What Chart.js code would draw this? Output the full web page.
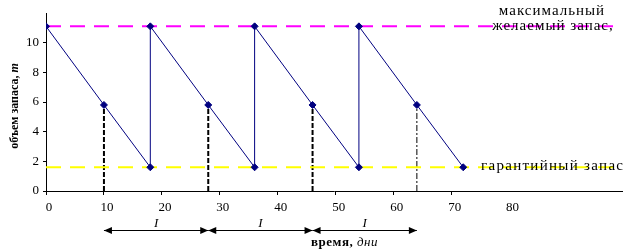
<!DOCTYPE html>
<html>
<head>
<meta charset="utf-8">
<script src="https://cdn.jsdelivr.net/npm/chart.js@4"></script>
<style>
  html, body { margin: 0; padding: 0; background: #fff; }
</style>
</head>
<body>
<canvas id="chart" width="633" height="252"></canvas>
<script>
// stock level over time (sawtooth)
const stockDays = [0, 10, 18, 18, 28, 36, 36, 46, 54, 54, 64, 72];
const stockLevels = [11.1, 5.8, 1.6, 11.1, 5.8, 1.6, 11.1, 5.8, 1.6, 11.1, 5.8, 1.6];
// order points
const orderDays = [10, 28, 46, 64];
const orderLevel = 5.8;
// reference levels
const maxStock = 11.1;
const safetyStock = 1.6;
const levelLineEnd = 98.6;
// axes
const xTicks = [0, 10, 20, 30, 40, 50, 60, 70, 80];
const yTicks = [0, 2, 4, 6, 8, 10];
const xMax = 99.4;
const yMax = 12;

const SERIF = "'Liberation Serif', 'Times New Roman', serif";

// -------------------------
// datasets
// -------------------------
const datasets = [
  {
    label: "stock",
    data: stockDays.map((d, i) => ({ x: d, y: stockLevels[i] })),
    borderColor: "#000080",
    backgroundColor: "#000080",
    borderWidth: 1,
    pointStyle: "rectRot",
    pointRadius: 3.5,
    pointBorderWidth: 1,
  },
  {
    label: "max",
    data: [{ x: 0, y: maxStock }, { x: levelLineEnd, y: maxStock }],
    borderColor: "#ff00ff",
    borderWidth: 2,
    borderDash: [15, 9],
    pointRadius: 0,
  },
  {
    label: "safety",
    data: [{ x: 0, y: safetyStock }, { x: levelLineEnd, y: safetyStock }],
    borderColor: "#ffff00",
    borderWidth: 2,
    borderDash: [15, 9],
    pointRadius: 0,
  },
];

orderDays.forEach((d, i) => {
  const last = i === orderDays.length - 1;
  datasets.push({
    label: "order" + i,
    data: [{ x: d, y: 0 }, { x: d, y: orderLevel }],
    borderColor: "#000",
    borderWidth: last ? 1 : 2,
    borderDash: last ? [6, 2, 2, 2] : [5, 2],
    pointRadius: 0,
  });
});

// -------------------------
// extra drawing: labels, arrows, titles
// -------------------------
function arrowHead(ctx, x, y, dir) {
  ctx.beginPath();
  ctx.moveTo(x, y);
  ctx.lineTo(x - dir * 8, y - 3.5);
  ctx.lineTo(x - dir * 8, y + 3.5);
  ctx.closePath();
  ctx.fill();
}

const extras = {
  id: "extras",
  afterDatasetsDraw(chart) {
    const ctx = chart.ctx;
    const xs = chart.scales.x;
    const ys = chart.scales.y;
    ctx.save();
    ctx.letterSpacing = "1px";
    ctx.font = "15px " + SERIF;
    ctx.fillStyle = "#000";
    ctx.textBaseline = "middle";

    // max level label (two lines, centred)
    const yMaxPx = ys.getPixelForValue(maxStock);
    ctx.textAlign = "center";
    ctx.fillText("максимальный", 552, yMaxPx - 15.5);
    ctx.fillText("желаемый запас,", 553, yMaxPx - 0.5);

    // safety level label
    const ySafePx = ys.getPixelForValue(safetyStock);
    ctx.textAlign = "left";
    ctx.letterSpacing = "1.3px";
    ctx.fillText("гарантийный запас", 481, ySafePx - 1);
    ctx.restore();

    // interval arrows
    ctx.save();
    const ay = 230.5;
    ctx.strokeStyle = "#000";
    ctx.fillStyle = "#000";
    ctx.lineWidth = 1;
    ctx.font = "italic 13px " + SERIF;
    ctx.textAlign = "center";
    ctx.textBaseline = "alphabetic";
    for (let i = 0; i < orderDays.length - 1; i++) {
      const x1 = xs.getPixelForValue(orderDays[i]);
      const x2 = xs.getPixelForValue(orderDays[i + 1]);
      ctx.beginPath();
      ctx.moveTo(x1, ay);
      ctx.lineTo(x2, ay);
      ctx.stroke();
      arrowHead(ctx, x1, ay, -1);
      arrowHead(ctx, x2, ay, 1);
      ctx.fillText("I", (x1 + x2) / 2, 227);
    }
    ctx.restore();

    // x axis title
    ctx.save();
    ctx.fillStyle = "#000";
    ctx.textBaseline = "alphabetic";
    ctx.letterSpacing = "0.5px";
    ctx.font = "bold 13px " + SERIF;
    const t1 = "время, ";
    ctx.fillText(t1, 311, 246);
    const tw = ctx.measureText(t1).width;
    ctx.font = "italic 13px " + SERIF;
    ctx.fillText("дни", 311 + tw, 246);
    ctx.restore();

    // y axis title
    ctx.save();
    ctx.translate(18, 106);
    ctx.rotate(-Math.PI / 2);
    ctx.fillStyle = "#000";
    ctx.textBaseline = "alphabetic";
    ctx.font = "bold 12px " + SERIF;
    const y1 = "объем запаса, ";
    const yw1 = ctx.measureText(y1).width;
    ctx.font = "italic bold 12px " + SERIF;
    const yw2 = ctx.measureText("т").width;
    const start = -(yw1 + yw2) / 2;
    ctx.font = "bold 12px " + SERIF;
    ctx.fillText(y1, start, 0);
    ctx.font = "italic bold 12px " + SERIF;
    ctx.fillText("т", start + yw1, 0);
    ctx.restore();
  },
};

// -------------------------
// chart
// -------------------------
new Chart(document.getElementById("chart"), {
  type: "line",
  data: { datasets: datasets },
  plugins: [extras],
  options: {
    responsive: false,
    animation: false,
    events: [],
    layout: { padding: { top: 13, right: 11, left: 0, bottom: 0 } },
    plugins: {
      legend: { display: false },
      tooltip: { enabled: false },
    },
    scales: {
      x: {
        type: "linear",
        min: 0,
        max: xMax,
        afterBuildTicks: (s) => { s.ticks = xTicks.map((v) => ({ value: v })); },
        afterFit: (s) => { s.height = 61; },
        border: { color: "#000", width: 1 },
        grid: {
          drawOnChartArea: false,
          tickLength: 4,
          color: (c) => (c.tick && c.tick.value === 80 ? "rgba(0,0,0,0)" : "#000"),
        },
        ticks: {
          color: "#000",
          font: { family: SERIF, size: 13 },
          padding: 5,
          labelOffset: 3,
          maxRotation: 0,
          autoSkip: false,
        },
      },
      y: {
        type: "linear",
        min: 0,
        max: yMax,
        afterBuildTicks: (s) => { s.ticks = yTicks.map((v) => ({ value: v })); },
        afterFit: (s) => { s.width = 46; },
        border: { color: "#000", width: 1 },
        grid: { drawOnChartArea: false, tickLength: 3, color: "#000" },
        ticks: {
          color: "#000",
          font: { family: SERIF, size: 13 },
          padding: 4,
        },
      },
    },
  },
});
</script>
</body>
</html>
